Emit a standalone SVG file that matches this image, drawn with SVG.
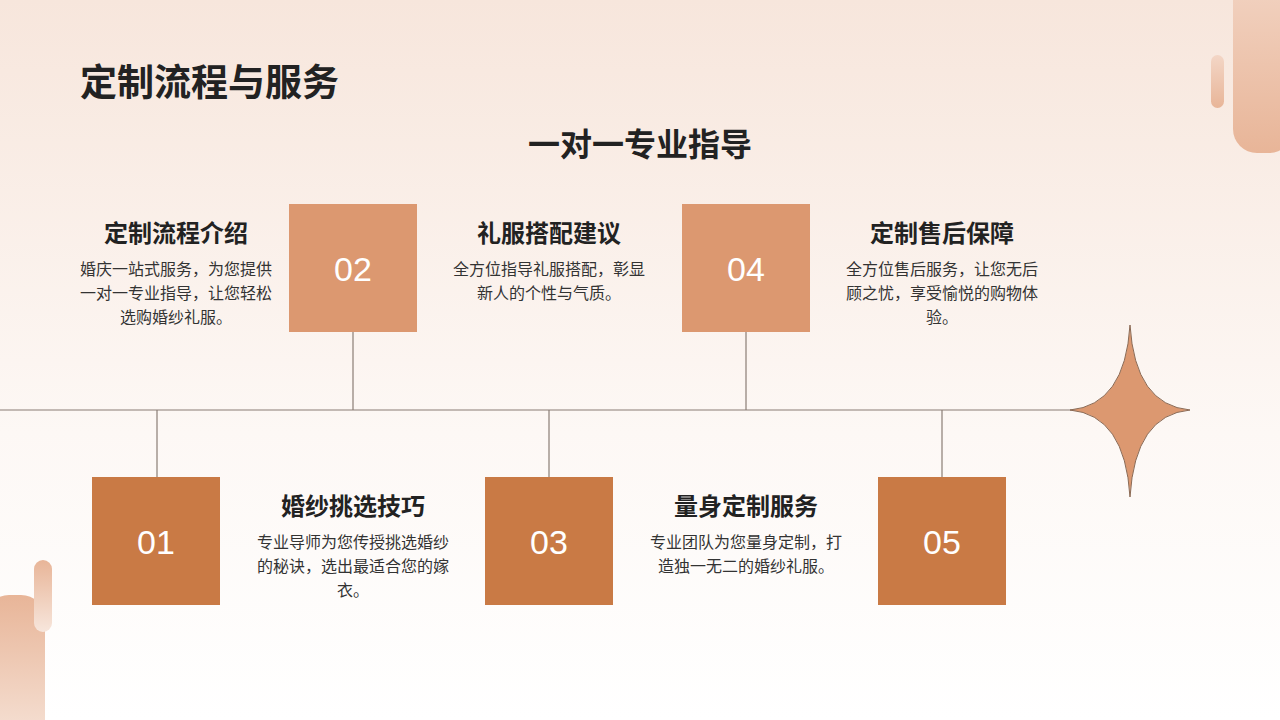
<svg xmlns="http://www.w3.org/2000/svg" width="1280" height="720" viewBox="0 0 1280 720">
<defs>
<linearGradient id="bg" x1="0" y1="0" x2="0" y2="1"><stop offset="0" stop-color="#f7e6dc"/><stop offset="0.6" stop-color="#fdf8f5"/><stop offset="1" stop-color="#ffffff"/></linearGradient>
<linearGradient id="dec" x1="0" y1="0" x2="0" y2="1"><stop offset="0" stop-color="#f3d6c6"/><stop offset="1" stop-color="#e8b598"/></linearGradient>
<linearGradient id="dec2" x1="0" y1="0" x2="0" y2="1"><stop offset="0" stop-color="#e8b598"/><stop offset="1" stop-color="#f7e6dc"/></linearGradient>
<style>
text{font-family:"Noto Sans CJK SC","Liberation Sans",sans-serif;fill:#222}
.h{font-size:24px;font-weight:bold;text-anchor:middle}
.b{font-size:16px;fill:#333;text-anchor:middle}
.n{font-family:"Liberation Sans",sans-serif;font-size:34px;fill:#fff;text-anchor:middle}
.l{stroke:#8a7d75;stroke-width:1.2;fill:none}
.t{fill:#dc9870}.d{fill:#c97a45}
</style>
</defs>
<rect width="1280" height="720" fill="url(#bg)"/>
<rect x="1233" y="-40" width="60" height="193" rx="24" fill="url(#dec)"/>
<rect x="1211" y="55" width="13" height="53" rx="6.5" fill="url(#dec)"/>
<rect x="-15" y="595" width="60" height="160" rx="24" fill="url(#dec2)"/>
<rect x="34" y="560" width="18" height="72" rx="9" fill="url(#dec2)"/>
<text x="80" y="96" font-size="37" font-weight="bold">定制流程与服务</text>
<text x="640" y="156" font-size="32" font-weight="bold" text-anchor="middle">一对一专业指导</text>
<g id="connectors">
<line class="l" x1="0" y1="410" x2="1120" y2="410"/>
<line class="l" x1="353" y1="332" x2="353" y2="410"/>
<line class="l" x1="746" y1="332" x2="746" y2="410"/>
<line class="l" x1="157" y1="410" x2="157" y2="477"/>
<line class="l" x1="549" y1="410" x2="549" y2="477"/>
<line class="l" x1="942" y1="410" x2="942" y2="477"/>
</g>
<path id="star" d="M1130 325 Q1135 405 1190 410 Q1135 415 1130 497 Q1125 415 1070 410 Q1125 405 1130 325Z" fill="#dc9870" stroke="#8a6a55" stroke-width="1"/>
<g id="n1"><rect class="d" x="92" y="477" width="128" height="128"/><text class="n" x="156" y="554">01</text>
<text class="h" x="353" y="515">婚纱挑选技巧</text><text class="b" x="353" y="548">专业导师为您传授挑选婚纱</text><text class="b" x="353" y="572">的秘诀，选出最适合您的嫁</text><text class="b" x="353" y="596">衣。</text></g>
<g id="n2"><rect class="t" x="289" y="204" width="128" height="128"/><text class="n" x="353" y="281">02</text>
<text class="h" x="176" y="242">定制流程介绍</text><text class="b" x="176" y="275">婚庆一站式服务，为您提供</text><text class="b" x="176" y="299">一对一专业指导，让您轻松</text><text class="b" x="176" y="323">选购婚纱礼服。</text></g>
<g id="n3"><rect class="d" x="485" y="477" width="128" height="128"/><text class="n" x="549" y="554">03</text>
<text class="h" x="746" y="515">量身定制服务</text><text class="b" x="746" y="548">专业团队为您量身定制，打</text><text class="b" x="746" y="572">造独一无二的婚纱礼服。</text></g>
<g id="n4"><rect class="t" x="682" y="204" width="128" height="128"/><text class="n" x="746" y="281">04</text>
<text class="h" x="549" y="242">礼服搭配建议</text><text class="b" x="549" y="275">全方位指导礼服搭配，彰显</text><text class="b" x="549" y="299">新人的个性与气质。</text></g>
<g id="n5"><rect class="d" x="878" y="477" width="128" height="128"/><text class="n" x="942" y="554">05</text>
<text class="h" x="942" y="242">定制售后保障</text><text class="b" x="942" y="275">全方位售后服务，让您无后</text><text class="b" x="942" y="299">顾之忧，享受愉悦的购物体</text><text class="b" x="942" y="323">验。</text></g>
</svg>
